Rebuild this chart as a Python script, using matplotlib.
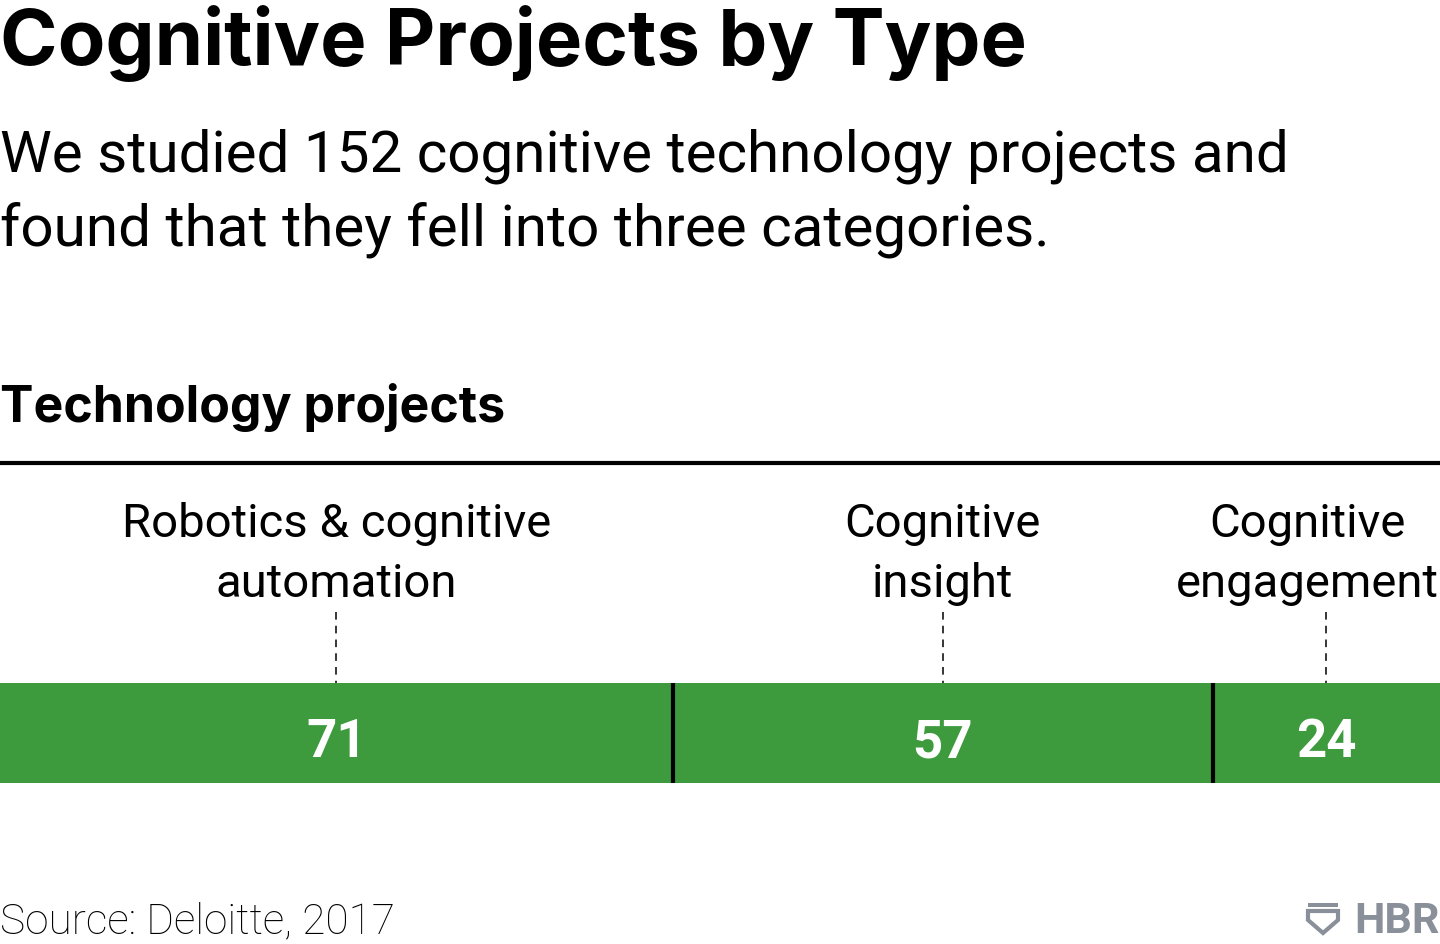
import matplotlib.pyplot as plt
from matplotlib.patches import Polygon

# data
categories = ["Robotics & cognitive\nautomation", "Cognitive\ninsight", "Cognitive\nengagement"]
counts = [71, 57, 24]
total = sum(counts)

title = "Cognitive Projects by Type"
subtitle = "We studied 152 cognitive technology projects and\nfound that they fell into three categories."
section = "Technology projects"
source = "Source: Deloitte, 2017"

GREEN = "#3d9b3d"
GREY = "#8a9099"

W, H = 1440, 944
fig = plt.figure(figsize=(W / 100, H / 100), dpi=100)
ax = fig.add_axes([0, 0, 1, 1])
ax.set_xlim(0, total)
ax.set_ylim(H, 0)
ax.axis("off")

px = total / W  # data units per pixel horizontally

# headings
ax.text(0, 65, title, fontsize=56, fontweight="bold", family="Inter", va="baseline")
ax.text(0, 245, subtitle, fontsize=42, family="Roboto", va="baseline", linespacing=1.38)
ax.text(0, 422, section, fontsize=36, fontweight="bold", family="Inter", va="baseline")
ax.plot([0, total], [463, 463], color="black", lw=3, solid_capstyle="butt")

# stacked bar
left = 0
for cat, n in zip(categories, counts):
    ax.barh(733, n, left=left, height=100, color=GREEN, edgecolor="none")
    mid = left + n / 2
    ax.text(mid, 757, str(n), ha="center", va="baseline", color="white",
            fontsize=38, fontweight="bold", family="Roboto")
    lx = min(mid, (W - 133) * px)
    ax.text(lx, 597, cat, ha="center", va="baseline", fontsize=34,
            family="Roboto", linespacing=1.45, multialignment="center")
    ax.plot([mid, mid], [612, 683], color="black", lw=1.1, ls=(0, (5, 4)))
    if left > 0:
        ax.plot([left, left], [683, 783], color="black", lw=3, solid_capstyle="butt")
    left += n

# footer
ax.text(0, 933, source, fontsize=30.5, family="Roboto", fontweight="light", va="baseline")
ax.text(total, 933, "HBR", fontsize=31, fontweight="bold", family="Roboto",
        color=GREY, ha="right", va="baseline")
x0 = 1308 * px
x1 = 1338 * px
ax.add_patch(Polygon([(x0, 903), (x1, 903), (x1, 907), (x0, 907)], closed=True,
                     color=GREY, lw=0))
shield = [(x0, 911), (x1, 911), (x1, 920), (x0 + 15 * px, 933), (x0, 920)]
ax.add_patch(Polygon(shield, closed=True, fill=False, edgecolor=GREY, lw=3))

fig.savefig("out.png", dpi=100)
